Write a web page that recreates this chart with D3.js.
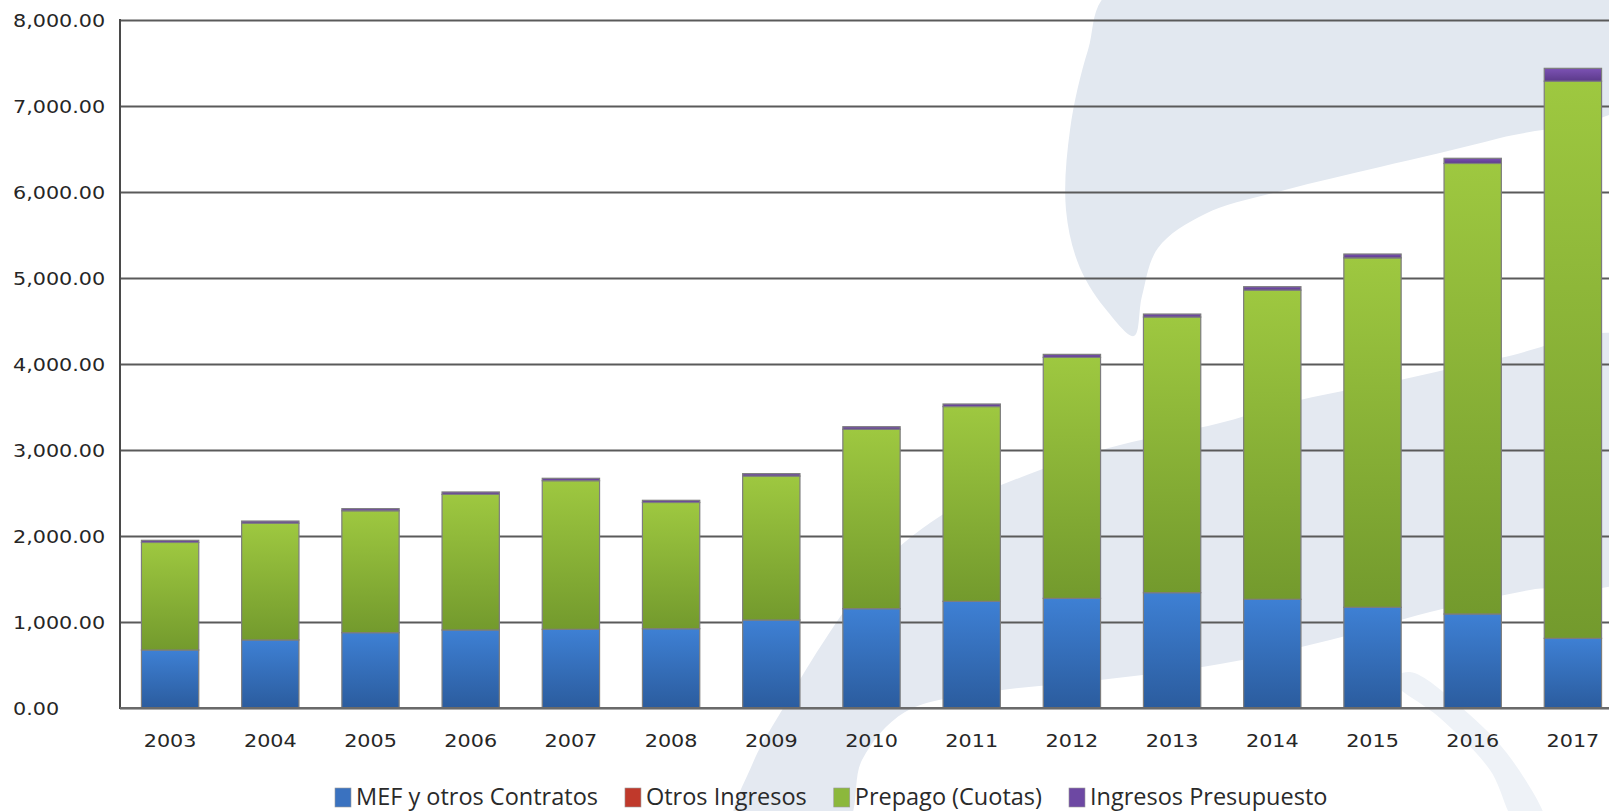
<!DOCTYPE html>
<html>
<head>
<meta charset="utf-8">
<script src="https://cdn.jsdelivr.net/npm/d3@7"></script>
<style>
  html, body { margin: 0; padding: 0; background: #ffffff; overflow: hidden; }
  svg { display: block; }
</style>
</head>
<body>
<svg id="chart" width="1609" height="811"></svg>
<script>
// Ingresos por fuente, 2003-2017
const years = ["2003","2004","2005","2006","2007","2008","2009","2010","2011","2012","2013","2014","2015","2016","2017"];
const mefContratos        = [674, 791, 876, 907, 915, 922, 1023, 1155, 1240, 1275, 1341, 1264, 1171, 1093, 810];
const otrosIngresos       = [0, 0, 0, 0, 0, 0, 0, 0, 0, 0, 0, 0, 0, 0, 0];
const prepagoCuotas       = [1251, 1358, 1417, 1577, 1728, 1468, 1674, 2086, 2265, 2802, 3205, 3595, 4063, 5239, 6478];
const ingresosPresupuesto = [25, 25, 25, 28, 28, 25, 28, 30, 30, 35, 35, 40, 45, 60, 150];
const seriesNames = ["MEF y otros Contratos", "Otros Ingresos", "Prepago (Cuotas)", "Ingresos Presupuesto"];
const yTicks = [0, 1000, 2000, 3000, 4000, 5000, 6000, 7000, 8000];

const svg = d3.select("#chart");
const plotLeft = 120, plotTop = 20, plotBottom = 708;
const plotRight = plotLeft + 1503;

// palette: [top, bottom] of each segment's vertical gradient
const grad = {
  "MEF y otros Contratos": ["#3e80d4", "#2b5c9e"],
  "Otros Ingresos":        ["#d04040", "#a32a2a"],
  "Prepago (Cuotas)":      ["#9ec840", "#739a2d"],
  "Ingresos Presupuesto":  ["#7c52b4", "#5b3a8a"]
};
const legendColor = {
  "MEF y otros Contratos": "#3a72c0",
  "Otros Ingresos":        "#c0392b",
  "Prepago (Cuotas)":      "#8cb83c",
  "Ingresos Presupuesto":  "#6d48a3"
};

const defs = svg.append("defs");
seriesNames.forEach((name, i) => {
  const g = defs.append("linearGradient")
    .attr("id", "g" + i)
    .attr("x1", 0).attr("y1", 0).attr("x2", 0).attr("y2", 1);
  g.append("stop").attr("offset", "0%").attr("stop-color", grad[name][0]);
  g.append("stop").attr("offset", "100%").attr("stop-color", grad[name][1]);
});

// faint logo watermark behind the chart
const wm = svg.append("g").attr("class", "watermark");
const blob = d3.line().curve(d3.curveCatmullRomClosed.alpha(0.5));
const crescent = [
  [1112, -10], [1088, 50], [1070, 130], [1066, 210], [1080, 268], [1108, 312], [1134, 336],
  [1142, 296], [1158, 248], [1205, 214], [1285, 190], [1380, 167], [1500, 138], [1630, 100], [1630, -10]
];
const swoosh = [
  [1630, 340], [1500, 358], [1400, 380], [1300, 400], [1220, 423], [1120, 445], [1040, 470],
  [950, 510], [880, 565], [828, 635], [785, 705], [752, 765], [735, 825],
  [845, 825], [862, 760], [905, 712], [990, 692], [1100, 680], [1220, 664], [1330, 640],
  [1430, 612], [1530, 590], [1630, 575]
];
const streak = [
  [1392, 680], [1440, 718], [1490, 770], [1518, 825], [1545, 825], [1512, 760], [1462, 708], [1410, 672]
];
wm.append("path").attr("d", blob(crescent)).attr("fill", "#e2e8f0");
wm.append("path").attr("d", blob(swoosh)).attr("fill", "#e4e9f1");
wm.append("path").attr("d", blob(streak)).attr("fill", "#eef2f7");

// scales
const x = d3.scaleBand().domain(years).range([plotLeft, plotRight]).paddingInner(0.428).paddingOuter(0.214);
const y = d3.scaleLinear().domain([0, 8000]).range([plotBottom, plotTop]);

// gridlines + y labels
const yAxis = d3.axisLeft(y).tickValues(yTicks).tickSize(-(plotRight - plotLeft)).tickFormat(d3.format(",.2f"));
const gy = svg.append("g").attr("transform", `translate(${plotLeft},0)`).call(yAxis);
gy.select(".domain").remove();
gy.selectAll(".tick line").attr("stroke", "#5a5a5a").attr("stroke-width", 2.2);
gy.selectAll(".tick text")
  .attr("x", 0)
  .attr("dy", "0.36em")
  .attr("text-anchor", "start")
  .attr("transform", `translate(${13 - plotLeft},0) scale(1.12,1)`)
  .attr("fill", "#262626")
  .style("font-family", "'DejaVu Sans', Verdana, sans-serif")
  .style("font-size", "18.5px");

// stacked bars
const rows = years.map((yr, i) => ({
  year: yr,
  "MEF y otros Contratos": mefContratos[i],
  "Otros Ingresos": otrosIngresos[i],
  "Prepago (Cuotas)": prepagoCuotas[i],
  "Ingresos Presupuesto": ingresosPresupuesto[i]
}));
const stacked = d3.stack().keys(seriesNames)(rows);

svg.append("g").selectAll("g")
  .data(stacked)
  .join("g")
  .attr("fill", (d, i) => `url(#g${i})`)
  .selectAll("rect")
  .data(d => d.filter(s => s[1] - s[0] > 0))
  .join("rect")
  .attr("x", d => x(d.data.year))
  .attr("width", x.bandwidth())
  .attr("y", d => y(d[1]))
  .attr("height", d => y(d[0]) - y(d[1]))
  .attr("stroke", "#7d7d7d")
  .attr("stroke-width", 1.2);

// axis lines
svg.append("line").attr("x1", plotLeft).attr("x2", plotLeft).attr("y1", plotTop - 1).attr("y2", plotBottom + 1)
  .attr("stroke", "#4a4a4a").attr("stroke-width", 2);
svg.append("line").attr("x1", plotLeft).attr("x2", plotRight).attr("y1", plotBottom).attr("y2", plotBottom)
  .attr("stroke", "#6a6a6a").attr("stroke-width", 2.2);

// x labels
const xAxis = d3.axisBottom(x).tickSize(0).tickPadding(0);
const gx = svg.append("g").attr("transform", `translate(0,${plotBottom})`).call(xAxis);
gx.select(".domain").remove();
gx.selectAll(".tick text")
  .attr("y", 0).attr("dy", 0)
  .attr("transform", "translate(0,39) scale(1.12,1)")
  .attr("fill", "#262626")
  .style("font-family", "'DejaVu Sans', Verdana, sans-serif")
  .style("font-size", "18.5px");

// legend
const legend = svg.append("g").attr("class", "legend");
let lx = 335;
seriesNames.forEach(name => {
  const item = legend.append("g");
  item.append("rect").attr("x", lx).attr("y", 788).attr("width", 16).attr("height", 19)
    .attr("fill", legendColor[name]).attr("stroke", "#9a9a9a").attr("stroke-width", 0.6);
  const t = item.append("text").attr("x", lx + 21).attr("y", 805)
    .attr("fill", "#2a2a2a")
    .style("font-family", "'Open Sans', sans-serif")
    .style("font-size", "23.5px")
    .text(name);
  lx += 21 + t.node().getComputedTextLength() + 27;
});
</script>
</body>
</html>
